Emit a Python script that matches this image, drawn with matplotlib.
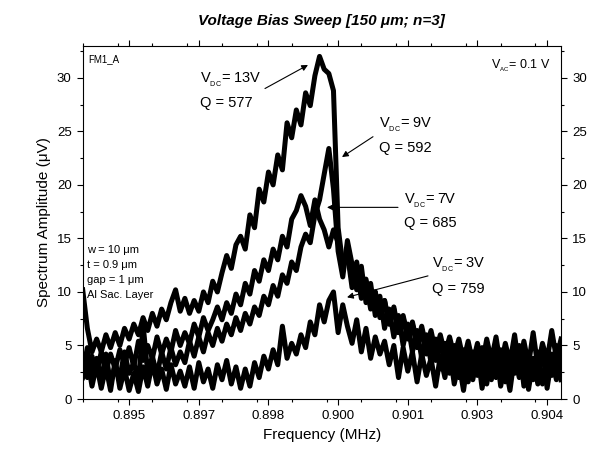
import numpy as np
import matplotlib
matplotlib.use('Agg')
import matplotlib.pyplot as plt
from matplotlib.ticker import MultipleLocator

plt.rcParams['font.family'] = ['Liberation Sans', 'DejaVu Sans']
plt.rcParams['mathtext.fontset'] = 'custom'
plt.rcParams['mathtext.rm'] = 'Liberation Sans'
plt.rcParams['mathtext.default'] = 'regular'

# frecuencias de muestreo (MHz)
f_inicio = 0.8940
f_paso = 0.0001
frecuencia = f_inicio + f_paso * np.arange(104)

# amplitudes (uV)
v13 = [10.2, 6.6, 4.4, 5.6, 4.4, 6.0, 4.8, 6.2, 5.0, 6.6,
       5.6, 7.0, 6.0, 7.6, 6.4, 8.0, 6.8, 8.4, 7.4, 9.0,
       10.2, 8.2, 9.4, 8.0, 9.2, 8.2, 10.0, 9.0, 11.0, 10.0,
       11.8, 13.4, 12.2, 14.4, 15.2, 14.0, 17.2, 16.0, 19.6, 18.4,
       21.2, 20.0, 22.8, 21.4, 25.8, 24.4, 27.0, 25.6, 28.6, 27.4,
       30.2, 32.0, 30.8, 30.4, 28.8, 16.0, 12.6, 13.6, 10.4, 12.0,
       9.4, 11.0, 8.4, 10.0, 7.6, 9.2, 7.0, 8.4, 6.2, 7.8,
       5.8, 7.2, 5.2, 6.8, 4.8, 6.4, 4.4, 6.0, 4.2, 5.8,
       4.0, 5.6, 3.6, 5.4, 3.4, 5.2, 3.2, 5.6, 3.6, 5.8,
       3.0, 5.2, 3.4, 6.0, 2.8, 5.4, 3.2, 6.2, 3.0, 5.2,
       3.6, 6.4, 3.8, 5.6]

v7 = [3.2, 2.0, 4.0, 2.4, 4.4, 2.6, 4.2, 2.8, 4.6, 3.2,
      4.8, 3.0, 5.4, 3.6, 5.0, 3.8, 5.8, 4.2, 5.6, 4.4,
      6.4, 5.0, 6.2, 5.2, 7.0, 5.8, 7.6, 6.4, 7.4, 8.6,
      7.4, 9.0, 8.0, 9.8, 8.8, 10.8, 9.8, 12.0, 11.0, 13.0,
      12.0, 14.0, 13.0, 15.2, 14.2, 16.8, 17.6, 19.0, 18.0, 16.2,
      18.6, 16.8, 15.8, 14.2, 15.8, 14.6, 12.2, 13.8, 11.0, 12.8,
      9.8, 11.2, 8.6, 10.0, 7.8, 9.2, 7.0, 8.6, 6.2, 7.6,
      5.6, 7.0, 4.8, 6.4, 4.2, 5.8, 3.6, 5.4, 3.2, 5.0,
      2.6, 4.8, 2.4, 4.4, 2.0, 4.6, 2.6, 4.2, 1.8, 4.8,
      2.2, 4.0, 1.6, 4.4, 2.4, 5.0, 1.8, 3.8, 1.4, 4.6,
      2.2, 4.2, 2.0, 4.8]

v9 = [2.4, 4.8, 1.6, 3.8, 1.8, 4.2, 1.4, 3.2, 2.0, 4.4,
      2.4, 3.4, 1.6, 7.0, 2.4, 4.0, 2.2, 4.4, 2.8, 4.8,
      3.2, 4.4, 3.4, 5.4, 4.0, 5.8, 4.4, 6.2, 5.0, 6.6,
      5.4, 7.0, 6.0, 7.6, 6.4, 8.0, 7.0, 8.6, 7.8, 9.6,
      8.8, 10.6, 9.6, 11.6, 10.8, 12.8, 12.0, 14.2, 15.4, 14.6,
      17.2, 18.6, 21.0, 23.4, 19.6, 13.8, 11.4, 14.8, 12.6, 10.2,
      12.4, 9.0, 10.8, 7.8, 9.6, 6.6, 8.4, 5.8, 7.8, 5.0,
      7.0, 4.4, 6.4, 3.8, 6.0, 3.4, 5.6, 2.8, 5.2, 2.4,
      5.0, 2.0, 4.6, 1.6, 4.4, 2.2, 4.8, 1.4, 4.0, 2.0,
      4.6, 1.6, 3.6, 2.4, 5.0, 1.2, 4.0, 1.8, 4.4, 1.4,
      3.8, 2.2, 5.0, 1.8]

v3 = [2.0, 3.8, 1.2, 3.2, 1.0, 3.0, 0.8, 3.6, 1.0, 2.8,
      0.8, 2.4, 0.7, 3.0, 1.2, 3.4, 1.4, 2.8, 0.9, 3.2,
      1.4, 2.6, 1.2, 3.0, 1.0, 3.4, 1.6, 2.8, 1.0, 3.2,
      1.8, 3.6, 1.4, 3.0, 1.0, 2.8, 1.2, 3.4, 2.0, 4.0,
      2.8, 4.6, 3.2, 6.8, 3.8, 5.2, 4.2, 6.0, 4.8, 7.2,
      6.0, 8.8, 7.2, 9.2, 10.0, 6.2, 8.8, 6.8, 5.2, 7.4,
      4.4, 6.6, 3.8, 5.8, 4.2, 5.4, 3.2, 5.0, 2.0, 4.8,
      2.6, 4.4, 1.6, 4.2, 2.2, 3.8, 1.2, 4.0, 2.0, 4.6,
      1.4, 3.4, 0.8, 3.8, 1.8, 4.4, 1.0, 3.6, 2.4, 4.8,
      1.2, 3.2, 0.8, 4.0, 2.0, 4.2, 0.9, 3.6, 2.2, 4.8,
      1.0, 3.8, 1.8, 4.4]

xticks = [0.8950, 0.8965, 0.8980, 0.8995, 0.9010, 0.9025, 0.9040]
xtick_labels = ['0.895', '0.897', '0.898', '0.900', '0.901', '0.903', '0.904']

fig = plt.figure(figsize=(5.92, 4.57), dpi=100)
ax = fig.add_axes([0.1397, 0.1269, 0.808, 0.7731])

for serie in [v3, v7, v9, v13]:
    ax.plot(frecuencia, serie, color='black', lw=3.6, solid_joinstyle='round')

ax.set_xlim(0.8940, 0.9043)
ax.set_ylim(0, 33)
ax.set_xticks(xticks)
ax.set_xticklabels(xtick_labels)
ax.xaxis.set_minor_locator(MultipleLocator(0.00075))
ax.yaxis.set_major_locator(MultipleLocator(5))
ax.yaxis.set_minor_locator(MultipleLocator(2.5))
ax.tick_params(which='both', direction='out', top=True, right=True,
               labelright=True, width=0.8)
ax.tick_params(which='major', length=4.5, labelsize=9.5)
ax.tick_params(which='minor', length=2.2)
for s in ax.spines.values():
    s.set_linewidth(0.8)

ax.set_xlabel('Frequency (MHz)', fontsize=11)
ax.set_ylabel('Spectrum Amplitude (μV)', fontsize=11)
ax.set_title('Voltage Bias Sweep [150 μm; n=3]', fontsize=11,
             fontweight='bold', style='italic', pad=15)

# textos
ax.text(0.012, 0.953, 'FM1_A', transform=ax.transAxes, fontsize=7)
ax.text(0.979, 0.937, r'V$_{\mathregular{_{AC}}}$= 0.1 V', transform=ax.transAxes,
        fontsize=9, ha='right')

izq = ['w = 10 μm', 't = 0.9 μm', 'gap = 1 μm', 'Al Sac. Layer']
for k, t in enumerate(izq):
    ax.text(0.009, 0.413 - k * 0.0425, t, transform=ax.transAxes, fontsize=8)

etiquetas = [
    (0.245, 0.894, 0.826, r'V$_{\mathregular{_{DC}}}$= 13V', 'Q = 577', (0.898851, 31.2), (0.897925, 29.0)),
    (0.620, 0.767, 0.699, r'V$_{\mathregular{_{DC}}}$= 9V', 'Q = 592', (0.899583, 22.6), (0.900251, 24.5)),
    (0.672, 0.552, 0.487, r'V$_{\mathregular{_{DC}}}$= 7V', 'Q = 685', (0.899260, 17.9), (0.900789, 17.9)),
    (0.730, 0.371, 0.300, r'V$_{\mathregular{_{DC}}}$= 3V', 'Q = 759', (0.899691, 9.5), (0.901435, 11.5)),
]
for x, y1, y2, t1, t2, punta, cola in etiquetas:
    ax.text(x, y1, t1, transform=ax.transAxes, fontsize=10.5, va='baseline')
    ax.text(x, y2, t2, transform=ax.transAxes, fontsize=10.5, va='baseline')
    ax.annotate('', xy=punta, xytext=cola,
                arrowprops=dict(arrowstyle='-|>', color='black', lw=0.8,
                                mutation_scale=9, shrinkA=0, shrinkB=0))

fig.savefig('out.png', dpi=100)
